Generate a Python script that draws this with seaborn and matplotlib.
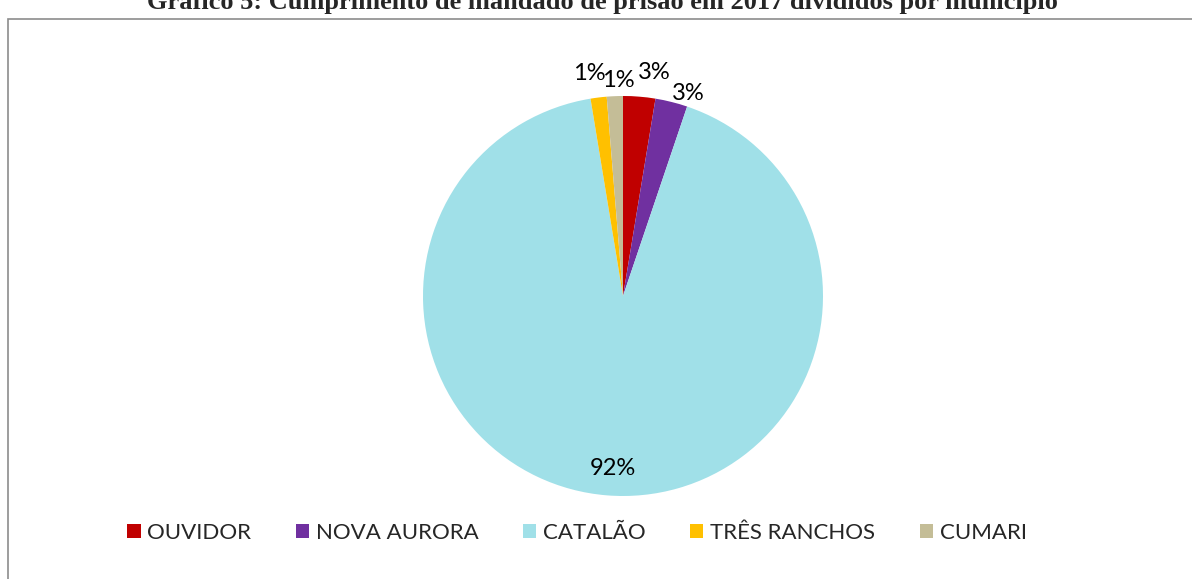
import numpy as np
import matplotlib.pyplot as plt
import seaborn as sns
from matplotlib.patches import Rectangle, Patch

# data (counts give 3%, 3%, 92%, 1%, 1%)
municipios = ["OUVIDOR", "NOVA AURORA", "CATALÃO", "TRÊS RANCHOS", "CUMARI"]
mandados = [2, 2, 71, 1, 1]
cores = ["#C00000", "#7030A0", "#A0E0E8", "#FFC000", "#C4BD97"]

# label placement: distance from centre (in radii) plus a small nudge in points
label_dist = [1.14, 1.08, 0.85, 1.14, 1.10]
label_dx = [9, 9, 3, -4, 3]
label_dy = [-3, -5, -2, -3, -3]

titulo = "Gráfico 5: Cumprimento de mandado de prisão em 2017 divididos por município"

sns.set_theme(style="white")
plt.rcParams["font.family"] = ["Lato", "DejaVu Sans"]

W, H = 1192, 579
fig = plt.figure(figsize=(W / 100, H / 100), dpi=100)

# chart frame (cut by the image edges on the right and bottom)
fig.add_artist(Rectangle((8 / W, -0.1), 1.2, 1 - 19 / H + 0.1, transform=fig.transFigure,
                         fill=False, edgecolor="#8C8C8C", linewidth=1.2))

fig.text(602 / W, 1 - 9 / H, titulo, ha="center", va="baseline",
         family="Liberation Serif", weight="bold", fontsize=19)

cx, cy, r = 623, 296, 200
ax = fig.add_axes([(cx - r) / W, (H - cy - r) / H, 2 * r / W, 2 * r / H])
wedges, _ = ax.pie(mandados, colors=cores, startangle=90, counterclock=False, radius=1,
                   wedgeprops=dict(linewidth=0))
ax.set_xlim(-1, 1)
ax.set_ylim(-1, 1)
ax.set_aspect("equal")
ax.axis("off")

total = sum(mandados)
for w, v, d, dx, dy in zip(wedges, mandados, label_dist, label_dx, label_dy):
    ang = np.deg2rad((w.theta1 + w.theta2) / 2)
    ax.annotate(f"{round(100 * v / total):.0f}%", (d * np.cos(ang), d * np.sin(ang)),
                xytext=(dx, dy), textcoords="offset points",
                ha="center", va="center", fontsize=17, color="black", annotation_clip=False)

handles = [Patch(facecolor=c, edgecolor="none") for c in cores]
fig.legend(handles, municipios, loc="center", bbox_to_anchor=(577 / W, 1 - 533 / H),
           ncol=5, frameon=False, fontsize=16, handlelength=0.6, handleheight=0.6,
           handletextpad=0.3, columnspacing=2.0)

fig.savefig("out.png", dpi=100)
